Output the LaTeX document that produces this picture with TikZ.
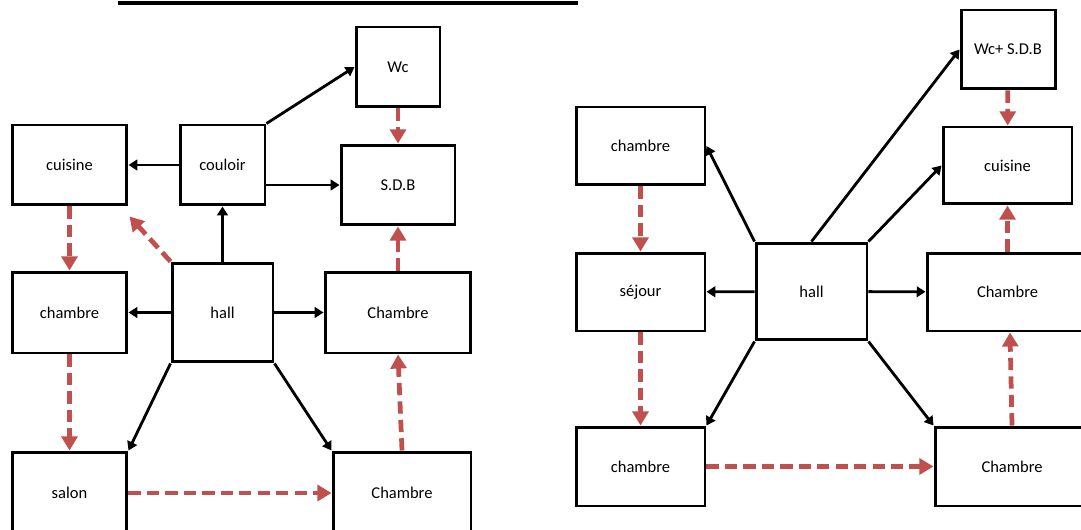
\documentclass[tikz,border=0pt]{standalone}
\usepackage{fontspec}
\setmainfont{Carlito}
\usetikzlibrary{arrows.meta,calc}
\definecolor{dred}{RGB}{192,80,77}
\begin{document}
\begin{tikzpicture}[x=0.02cm,y=-0.02cm,
  box/.style={draw, line width=1.7pt, inner sep=0pt, font=\fontsize{9.4}{11}\selectfont},
  link/.style={line width=1.6pt, -{Triangle[length=5pt,width=6pt]}},
  dlink/.style={dred, line width=2.7pt, dash pattern=on 7pt off 3.5pt, -{Triangle[length=8pt,width=9pt]}}]
\useasboundingbox (0,0) rectangle (1081,530);
\clip (0,0) rectangle (1081,530);
\fill[white] (0,0) rectangle (1081,530);
% title rule
\draw[line width=2.3pt] (118,3) -- (578,3);
% ---- left plan ----
\node[box, minimum width=2.3cm, minimum height=1.6cm] (cuisL) at (69.5,165) {cuisine};
\node[box, minimum width=1.7cm, minimum height=1.6cm] (coul) at (222.5,165) {couloir};
\node[box, minimum width=1.68cm, minimum height=1.6cm] (wc) at (398,67) {Wc};
\node[box, minimum width=2.28cm, minimum height=1.6cm] (sdb) at (398,185) {S.D.B};
\node[box, minimum width=2.3cm, minimum height=1.62cm] (chL) at (69.5,312.5) {chambre};
\node[box, minimum width=2.02cm, minimum height=1.98cm] (hallL) at (222.5,312.5) {hall};
\node[box, minimum width=2.92cm, minimum height=1.62cm] (chR) at (398,312.5) {Chambre};
\node[box, minimum width=2.3cm, minimum height=1.64cm] (salon) at (69.5,493) {salon};
\node[box, minimum width=2.76cm, minimum height=1.64cm] (chB) at (402,493) {Chambre};
\draw[link] (coul) -- (cuisL);
\draw[link] (hallL.north) -- (coul.south);
\draw[link] (coul.north east) -- (wc.west);
\draw[link] (coul.east |- sdb.west) -- (sdb.west);
\draw[link] (hallL) -- (chL);
\draw[link] (hallL) -- (chR);
\draw[link] (hallL.south west) -- (salon.north east);
\draw[link] (hallL.south east) -- (chB.north west);
\coordinate (nearcuis) at ($(cuisL.south east)+(1,10)$);
\draw[dlink] (wc) -- (sdb);
\draw[dlink] (cuisL) -- (chL);
\draw[dlink] (hallL.north west) -- (nearcuis);
\draw[dlink] (chR) -- (sdb);
\draw[dlink] (chL) -- (salon);
\draw[dlink] (salon) -- (chB);
\draw[dlink] (chB.north) -- (chR.south);
% ---- right plan ----
\node[box, minimum width=1.88cm, minimum height=1.58cm] (wcs) at (1008,49.5) {Wc+ S.D.B};
\node[box, minimum width=2.58cm, minimum height=1.54cm] (cuisR) at (1007.5,165.5) {cuisine};
\node[box, minimum width=2.58cm, minimum height=1.56cm] (chTL) at (640.5,146) {chambre};
\node[box, minimum width=2.58cm, minimum height=1.56cm] (sej) at (640.5,292) {séjour};
\node[box, minimum width=2.22cm, minimum height=1.94cm] (hallR) at (811.5,291.5) {hall};
\node[box, minimum width=3.22cm, minimum height=1.56cm] (chMR) at (1007.5,292) {Chambre};
\node[box, minimum width=2.58cm, minimum height=1.58cm] (chBL) at (640.5,466.5) {chambre};
\node[box, minimum width=3.08cm, minimum height=1.58cm] (chBR) at (1012,466.5) {Chambre};
\draw[link] (hallR.north west) -- (chTL.east);
\draw[link] (hallR.north) -- (wcs.west);
\draw[link] (hallR.north east) -- (cuisR.west);
\draw[link] (hallR) -- (sej);
\draw[link] (hallR) -- (chMR);
\draw[link] (hallR.south west) -- (chBL.north east);
\draw[link] (hallR.south east) -- (chBR.north west);
\draw[dlink] (wcs) -- (cuisR);
\draw[dlink] (chMR) -- (cuisR);
\draw[dlink] (chTL) -- (sej);
\draw[dlink] (sej) -- (chBL);
\draw[dlink] (chBL) -- (chBR);
\coordinate (chMRin) at ($(chMR.south)+(2.5,0)$);
\draw[dlink] (chBR.north) -- (chMRin);
\end{tikzpicture}
\end{document}
